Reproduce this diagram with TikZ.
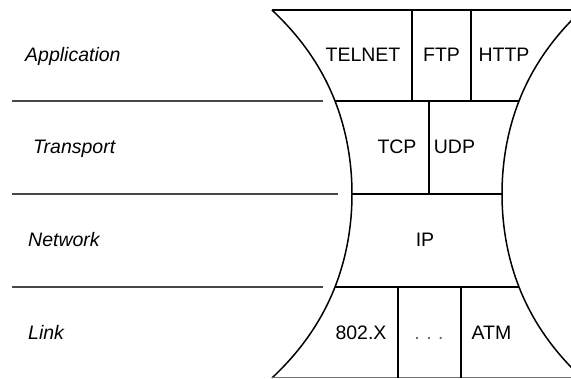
\documentclass[tikz,border=0pt]{standalone}
\usepackage{fontspec}
\setmainfont{Liberation Sans}
\begin{document}
\begin{tikzpicture}[x=1pt,y=-1pt,
  sepline/.style={line width=1.9pt,black},
  curveline/.style={line width=1.5pt,black},
  divline/.style={line width=1.1pt,black},
  leftline/.style={line width=1.6pt,black!72},
  boxlabel/.style={anchor=base,inner sep=0pt,font=\fontsize{19.5}{22}\selectfont},
  layerlabel/.style={anchor=base west,inner sep=0pt,font=\fontsize{19.5}{22}\selectfont\itshape}]
\useasboundingbox (0,0) rectangle (571,379);
\begin{scope}
\clip (0,0) rectangle (571,379);
% hourglass outline
\draw[curveline] plot[domain=-1.84:1.84,samples=73,smooth,variable=\t]
  ({352-18.29*\t*\t-1.583*\t*\t*\t*\t},{194+100*\t});
\draw[curveline] plot[domain=-1.84:1.84,samples=73,smooth,variable=\t]
  ({502+18.29*\t*\t+1.583*\t*\t*\t*\t},{194+100*\t});
% top and bottom
\coordinate (tl) at (272,10);
\coordinate (tr) at (582,10);
\coordinate (bl) at (272,377.5);
\coordinate (br) at (582,377.5);
\draw[sepline] (tl) -- (tr);
\draw[line width=1.2pt,black!55] (bl) -- (br);
% layer separators inside the shape
\coordinate (s1l) at (335,101); \coordinate (s1r) at (519,101);
\coordinate (s2l) at (352,194); \coordinate (s2r) at (502,194);
\coordinate (s3l) at (335,287); \coordinate (s3r) at (519,287);
\draw[sepline] (s1l) -- (s1r);
\draw[sepline] (s2l) -- (s2r);
\draw[sepline] (s3l) -- (s3r);
\end{scope}
% vertical dividers
\coordinate (a1t) at (412,10);  \coordinate (a1b) at (412,101);
\coordinate (a2t) at (471,10);  \coordinate (a2b) at (471,101);
\coordinate (t1t) at (429,101); \coordinate (t1b) at (429,194);
\coordinate (k1t) at (398,287); \coordinate (k1b) at (398,378);
\coordinate (k2t) at (461,287); \coordinate (k2b) at (461,378);
\draw[divline] (a1t) -- (a1b);
\draw[divline] (a2t) -- (a2b);
\draw[divline] (t1t) -- (t1b);
\draw[divline] (k1t) -- (k1b);
\draw[divline] (k2t) -- (k2b);
% left separator lines
\coordinate (l1a) at (12,101); \coordinate (l1b) at (323,101);
\coordinate (l2a) at (12,194); \coordinate (l2b) at (338,194);
\coordinate (l3a) at (12,287); \coordinate (l3b) at (323,287);
\draw[leftline] (l1a) -- (l1b);
\draw[leftline] (l2a) -- (l2b);
\draw[leftline] (l3a) -- (l3b);
% layer names
\node[layerlabel] (app) at (25,62) {Application};
\node[layerlabel] (trn) at (33,154) {Transport};
\node[layerlabel] (net) at (28,247) {Network};
\node[layerlabel] (lnk) at (28,340) {Link};
% protocols
\node[boxlabel] (telnet) at (363,62) {TELNET};
\node[boxlabel] (ftp) at (441.5,62) {FTP};
\node[boxlabel] (http) at (504,62) {HTTP};
\node[boxlabel] (tcp) at (397,154) {TCP};
\node[boxlabel] (udp) at (454.5,154) {UDP};
\node[boxlabel] (ip) at (425,247) {IP};
\node[boxlabel] (x802) at (361,340) {802.X};
\node[boxlabel,text=black!60] (dots) at (429,340) {.\,\,.\,\,.};
\node[boxlabel] (atm) at (491.5,340) {ATM};
\end{tikzpicture}
\end{document}
